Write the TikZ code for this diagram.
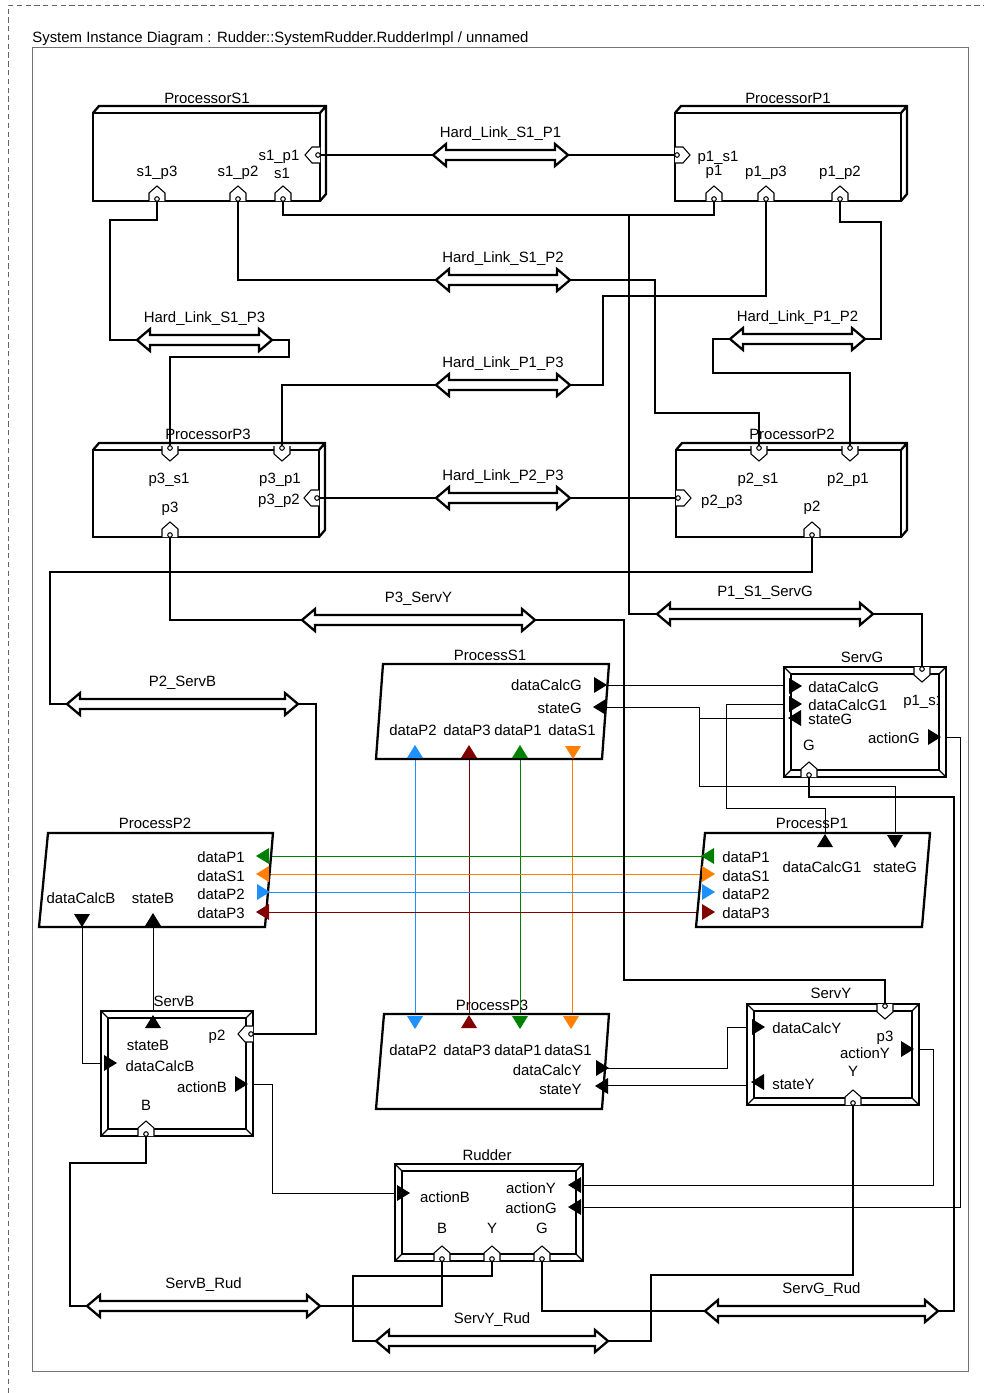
\documentclass[tikz,border=0pt]{standalone}
\usepackage{fontspec}
\setmainfont{Liberation Sans}

\definecolor{clrP2}{RGB}{30,144,255}
\definecolor{clrP3}{RGB}{128,0,0}
\definecolor{clrP1}{RGB}{0,128,0}
\definecolor{clrS1}{RGB}{255,128,0}

\tikzset{
  lbl/.style={font=\fontsize{8.5}{10}\selectfont, inner sep=0pt},
  wire/.style={line width=1.2pt},
  sig/.style={line width=0.5pt},
  boxline/.style={line width=1.3pt},
  busline/.style={line width=1.3pt, fill=white},
  busport/.pic={
    \draw[fill=white, line width=0.6pt] (-8,0) -- (-8,-8) -- (0,-15) -- (8,-8) -- (8,0);
    \draw[line width=0.6pt] (0,-2) circle[radius=1.3pt];
  },
  dport/.pic={\fill (-6,-8) -- (7,0) -- (-6,8) -- cycle;}
}

% double arrow of a bus: name, left x, right x, y, label
\newcommand{\busbar}[5]{%
  \coordinate (#1-w) at (#2,#4);
  \coordinate (#1-e) at (#3,#4);
  \draw[busline] (#1-w) -- (#2+13,#4-11) -- (#2+13,#4-5) -- (#3-13,#4-5) -- (#3-13,#4-11)
    -- (#1-e) -- (#3-13,#4+11) -- (#3-13,#4+5) -- (#2+13,#4+5) -- (#2+13,#4+11) -- cycle;
  \node[lbl] (#1-lbl) at ({(#2+#3)/2},#4-21) {#5};}
% processor box with 3D top: front face x1,y1,x2,y2
\newcommand{\procbox}[4]{%
  \draw[boxline, fill=white] (#1,#2) rectangle (#3,#4);
  \draw[boxline] (#1,#2) -- (#1+6,#2-7) -- (#3+6,#2-7) -- (#3+6,#4-7) -- (#3,#4) (#3,#2) -- (#3+6,#2-7);}
% device with double frame
\newcommand{\devbox}[4]{%
  \draw[line width=1.6pt, fill=white] (#1,#2) rectangle (#3,#4);
  \draw[line width=1pt] (#1+7,#2+7) rectangle (#3-7,#4-7);
  \draw[line width=0.7pt] (#1,#2) -- (#1+7,#2+7) (#3,#2) -- (#3-7,#2+7)
    (#1,#4) -- (#1+7,#4-7) (#3,#4) -- (#3-7,#4-7);}

\begin{document}
\begin{tikzpicture}[x=0.02cm, y=-0.02cm]
\useasboundingbox (0,0) rectangle (984,1393);
\draw[black!60, dash pattern=on 3pt off 2pt] (8,1393) -- (8,5) -- (984,5);
\draw[black!55, line width=0.5pt] (32,47) rectangle (968,1371);
\node[lbl, anchor=west] (title) at (32,39) {System Instance Diagram : Rudder::SystemRudder.RudderImpl / unnamed};

% ports of the processors
\coordinate (s1p3) at (157,201);
\coordinate (s1p2) at (238,201);
\coordinate (s1) at (283,201);
\coordinate (s1p1) at (320,155);
\coordinate (p1s1) at (675,155);
\coordinate (p1) at (714,201);
\coordinate (p1p3) at (766,201);
\coordinate (p1p2) at (840,201);
\coordinate (p3s1) at (170,446);
\coordinate (p3p1) at (282,446);
\coordinate (p3p2) at (319,498);
\coordinate (p3) at (170,537);
\coordinate (p2s1) at (759,446);
\coordinate (p2p1) at (850,446);
\coordinate (p2p3) at (676,498);
\coordinate (p2) at (812,537);
% ports of the devices
\coordinate (gP1s1) at (922,667);
\coordinate (gG) at (809,777);
\coordinate (bP2) at (253,1034);
\coordinate (bB) at (146,1136);
\coordinate (yP3) at (885,1004);
\coordinate (yY) at (853,1105);
\coordinate (rB) at (442,1261);
\coordinate (rY) at (492,1261);
\coordinate (rG) at (542,1261);
% data ports
\coordinate (s1CalcG) at (604,685);
\coordinate (s1StateG) at (604,707);
\coordinate (gCalcG) at (788,685);
\coordinate (gCalcG1) at (788,704);
\coordinate (gStateG) at (788,718);
\coordinate (gActionG) at (940,737);
\coordinate (p1CalcG1) at (825,833);
\coordinate (p1StateG) at (895,833);
\coordinate (p2CalcB) at (82,927);
\coordinate (p2StateB) at (153,927);
\coordinate (bCalcB) at (104,1063);
\coordinate (bStateB) at (153,1013);
\coordinate (bActionB) at (247,1084);
\coordinate (p3CalcY) at (604,1068);
\coordinate (p3StateY) at (604,1085);
\coordinate (yCalcY) at (752,1027);
\coordinate (yStateY) at (752,1085);
\coordinate (yActionY) at (913,1049);
\coordinate (rActionB) at (397,1193);
\coordinate (rActionY) at (578,1185);
\coordinate (rActionG) at (578,1207);
\coordinate (s1P2) at (415,759);
\coordinate (s1P3) at (469,759);
\coordinate (s1P1) at (520,759);
\coordinate (s1S1) at (572,759);
\coordinate (p3P2) at (415,1014);
\coordinate (p3P3) at (469,1014);
\coordinate (p3P1) at (520,1014);
\coordinate (p3S1) at (572,1014);
\coordinate (p2P1) at (268,856);
\coordinate (p2S1) at (267,874);
\coordinate (p2P2) at (267,892);
\coordinate (p2P3) at (266,912);
\coordinate (p1P1) at (703,856);
\coordinate (p1S1) at (702,874);
\coordinate (p1P2) at (700,892);
\coordinate (p1P3) at (699,912);

% thin connections
\draw[sig] (s1CalcG) -- (gCalcG);
\draw[sig] (s1StateG) -| (699,786) -| (p1StateG);
\coordinate (jS) at (699,718);
\draw[sig] (gStateG) -- (jS);
\draw[sig] (p1CalcG1) |- (726,808) |- (gCalcG1);
\draw[sig] (gActionG) -| (960,1207) -- (rActionG);
\draw[sig] (yActionY) -| (933,1185) -- (rActionY);
\draw[sig] (bActionB) -| (272,1193) -- (rActionB);
\draw[sig] (p2CalcB) |- (bCalcB);
\draw[sig] (bStateB) -- (p2StateB);
\draw[sig] (p3CalcY) -| (727,1027) -- (yCalcY);
\draw[sig] (yStateY) -- (p3StateY);
\draw[sig, clrP2] (s1P2) -- (p3P2);
\draw[sig, clrP3] (s1P3) -- (p3P3);
\draw[sig, clrP1] (s1P1) -- (p3P1);
\draw[sig, clrS1] (s1S1) -- (p3S1);
\draw[sig, clrP1] (p2P1) -- (p1P1);
\draw[sig, clrS1] (p2S1) -- (p1S1);
\draw[sig, clrP2] (p2P2) -- (p1P2);
\draw[sig, clrP3] (p2P3) -- (p1P3);

% buses
\busbar{hlS1P1}{433}{568}{155}{Hard\_Link\_S1\_P1}
\busbar{hlS1P2}{436}{570}{280}{Hard\_Link\_S1\_P2}
\busbar{hlS1P3}{137}{272}{340}{Hard\_Link\_S1\_P3}
\busbar{hlP1P2}{730}{865}{339}{Hard\_Link\_P1\_P2}
\busbar{hlP1P3}{436}{570}{385}{Hard\_Link\_P1\_P3}
\busbar{hlP2P3}{436}{570}{498}{Hard\_Link\_P2\_P3}
\busbar{busY3}{302}{535}{620}{P3\_ServY}
\busbar{busG}{657}{873}{614}{P1\_S1\_ServG}
\busbar{busB}{67}{298}{704}{P2\_ServB}
\busbar{busBR}{87}{320}{1306}{ServB\_Rud}
\busbar{busYR}{376}{608}{1341}{ServY\_Rud}
\busbar{busGR}{705}{938}{1311}{ServG\_Rud}

% bus connections
\draw[wire] (s1p1) -- (hlS1P1-w);
\draw[wire] (hlS1P1-e) -- (p1s1);
\draw[wire] (s1p3) |- (110,220) |- (hlS1P3-w);
\draw[wire] (hlS1P3-e) -| (289,357) -| (p3s1);
\draw[wire] (s1p2) |- (hlS1P2-w);
\draw[wire] (hlS1P2-e) -| (655,413) -| (p2s1);
\coordinate (jG) at (629,215);
\draw[wire] (s1) |- (jG) -| (p1);
\draw[wire] (jG) |- (busG-w);
\draw[wire] (busG-e) -| (gP1s1);
\draw[wire] (p1p3) |- (603,296) |- (hlP1P3-e);
\draw[wire] (hlP1P3-w) -| (p3p1);
\draw[wire] (p1p2) |- (881,222) |- (hlP1P2-e);
\draw[wire] (hlP1P2-w) -| (713,373) -| (p2p1);
\draw[wire] (p3p2) -- (hlP2P3-w);
\draw[wire] (hlP2P3-e) -- (p2p3);
\draw[wire] (p3) |- (busY3-w);
\draw[wire] (busY3-e) -| (624,980) -| (yP3);
\draw[wire] (p2) |- (50,572) |- (busB-w);
\draw[wire] (busB-e) -| (316,1034) -- (bP2);
\draw[wire] (bB) |- (70,1163) |- (busBR-w);
\draw[wire] (busBR-e) -| (rB);
\draw[wire] (rY) |- (353,1276) |- (busYR-w);
\draw[wire] (busYR-e) -| (651,1275) -| (yY);
\draw[wire] (rG) |- (busGR-w);
\draw[wire] (gG) |- (954,797) |- (busGR-e);

% processors
\procbox{93}{113}{320}{201}
\procbox{675}{113}{901}{201}
\procbox{93}{450}{319}{537}
\procbox{676}{450}{901}{537}
\node[lbl] (nS1) at (207,98) {ProcessorS1};
\node[lbl] (nP1) at (788,98) {ProcessorP1};
\node[lbl] (nP3) at (208,434) {ProcessorP3};
\node[lbl] (nP2) at (792,434) {ProcessorP2};
\foreach \p in {s1p3,s1p2,s1,p1,p1p3,p1p2,p3,p2}
  \pic at (\p) {busport};
\foreach \p in {p3s1,p3p1,p2s1,p2p1}
  \pic[rotate=180] at (\p) {busport};
\pic[rotate=90] at (s1p1) {busport};
\pic[rotate=90] at (p3p2) {busport};
\pic[rotate=-90] at (p1s1) {busport};
\pic[rotate=-90] at (p2p3) {busport};
\node[lbl] (t-s1p3) at (157,173) {s1\_p3};
\node[lbl] (t-s1p2) at (238,173) {s1\_p2};
\node[lbl] (t-s1) at (282,173) {s1};
\node[lbl] (t-s1p1) at (279,157) {s1\_p1};
\node[lbl] (t-p1s1) at (718,158) {p1\_s1};
\node[lbl] (t-p1) at (714,172) {p1};
\node[lbl] (t-p1p3) at (766,173) {p1\_p3};
\node[lbl] (t-p1p2) at (840,173) {p1\_p2};
\node[lbl] (t-p3s1) at (169,480) {p3\_s1};
\node[lbl] (t-p3p1) at (280,480) {p3\_p1};
\node[lbl] (t-p3p2) at (279,501) {p3\_p2};
\node[lbl] (t-p3) at (170,509) {p3};
\node[lbl] (t-p2s1) at (758,480) {p2\_s1};
\node[lbl] (t-p2p1) at (848,480) {p2\_p1};
\node[lbl] (t-p2p3) at (722,502) {p2\_p3};
\node[lbl] (t-p2) at (812,508) {p2};

% processes
\draw[boxline, fill=white] (383,664) -- (609,664) -- (602,759) -- (376,759) -- cycle;
\draw[boxline, fill=white] (48,833) -- (273,833) -- (265,927) -- (39,927) -- cycle;
\draw[boxline, fill=white] (705,833) -- (930,833) -- (922,927) -- (696,927) -- cycle;
\draw[boxline, fill=white] (384,1014) -- (609,1014) -- (602,1109) -- (376,1109) -- cycle;
\draw[sig] (p1CalcG1) -- ++(0,-10);
\draw[sig] (p1StateG) -- ++(0,-10);
\node[lbl] (nPS1) at (490,655) {ProcessS1};
\node[lbl] (nPP2) at (155,823) {ProcessP2};
\node[lbl] (nPP1) at (812,823) {ProcessP1};
\node[lbl] (nPP3) at (492,1005) {ProcessP3};
% ProcessS1
\pic at (600,685) {dport};
\pic[rotate=180] at (600,707) {dport};
\pic[rotate=90, color=clrP2] at (415,752) {dport};
\pic[rotate=90, color=clrP3] at (469,752) {dport};
\pic[rotate=90, color=clrP1] at (520,752) {dport};
\pic[rotate=-90, color=clrS1] at (573,752) {dport};
\node[lbl, anchor=east] (t-s1CalcG) at (582,685) {dataCalcG};
\node[lbl, anchor=east] (t-s1StateG) at (582,708) {stateG};
\node[lbl] (t-s1P2) at (413,730) {dataP2};
\node[lbl] (t-s1P3) at (467,730) {dataP3};
\node[lbl] (t-s1P1) at (518,730) {dataP1};
\node[lbl] (t-s1S1) at (572,730) {dataS1};
% ProcessP2
\pic[rotate=180, color=clrP1] at (263,856) {dport};
\pic[rotate=180, color=clrS1] at (263,874) {dport};
\pic[color=clrP2] at (263,892) {dport};
\pic[rotate=180, color=clrP3] at (263,912) {dport};
\pic[rotate=-90] at (82,920) {dport};
\pic[rotate=90] at (153,920) {dport};
\node[lbl, anchor=east] (t-p2P1) at (245,857) {dataP1};
\node[lbl, anchor=east] (t-p2S1) at (245,876) {dataS1};
\node[lbl, anchor=east] (t-p2P2) at (245,894) {dataP2};
\node[lbl, anchor=east] (t-p2P3) at (245,913) {dataP3};
\node[lbl] (t-p2CalcB) at (81,898) {dataCalcB};
\node[lbl] (t-p2StateB) at (153,898) {stateB};
% ProcessP1
\pic[rotate=180, color=clrP1] at (708,856) {dport};
\pic[color=clrS1] at (708,874) {dport};
\pic[color=clrP2] at (708,892) {dport};
\pic[color=clrP3] at (708,912) {dport};
\pic[rotate=90] at (825,841) {dport};
\pic[rotate=-90] at (895,841) {dport};
\node[lbl, anchor=west] (t-p1P1) at (722,857) {dataP1};
\node[lbl, anchor=west] (t-p1S1) at (722,876) {dataS1};
\node[lbl, anchor=west] (t-p1P2) at (722,894) {dataP2};
\node[lbl, anchor=west] (t-p1P3) at (722,913) {dataP3};
\node[lbl] (t-p1CalcG1) at (822,867) {dataCalcG1};
\node[lbl] (t-p1StateG) at (895,867) {stateG};
% ProcessP3
\pic[rotate=-90, color=clrP2] at (415,1022) {dport};
\pic[rotate=90, color=clrP3] at (469,1022) {dport};
\pic[rotate=-90, color=clrP1] at (520,1022) {dport};
\pic[rotate=-90, color=clrS1] at (571,1022) {dport};
\pic at (602,1068) {dport};
\pic[rotate=180] at (602,1086) {dport};
\node[lbl] (t-p3P2) at (413,1050) {dataP2};
\node[lbl] (t-p3P3) at (467,1050) {dataP3};
\node[lbl] (t-p3P1) at (518,1050) {dataP1};
\node[lbl] (t-p3S1) at (568,1050) {dataS1};
\node[lbl, anchor=east] (t-p3CalcY) at (582,1070) {dataCalcY};
\node[lbl, anchor=east] (t-p3StateY) at (582,1089) {stateY};

% devices
\devbox{784}{667}{946}{777}
\devbox{101}{1011}{253}{1136}
\devbox{747}{1004}{919}{1105}
\devbox{395}{1164}{583}{1261}
\node[lbl] (nG) at (862,657) {ServG};
\node[lbl] (nB) at (174,1001) {ServB};
\node[lbl] (nY) at (831,993) {ServY};
\node[lbl] (nR) at (487,1155) {Rudder};
\foreach \p in {gG,bB,yY,rB,rY,rG}
  \pic at (\p) {busport};
\pic[rotate=180] at (gP1s1) {busport};
\pic[rotate=180] at (yP3) {busport};
\pic[rotate=90] at (bP2) {busport};
% ServG
\pic at (795,686) {dport};
\pic at (795,704) {dport};
\pic[rotate=180] at (795,718) {dport};
\pic at (934,737) {dport};
\node[lbl, anchor=west] (t-gCalcG) at (808,687) {dataCalcG};
\node[lbl, anchor=west] (t-gCalcG1) at (808,705) {dataCalcG1};
\node[lbl, anchor=west] (t-gStateG) at (808,719) {stateG};
\begin{scope}
  \clip (791,674) rectangle (939,770);
  \node[lbl, anchor=west] (t-gP1s1) at (903,702) {p1\_s1};
\end{scope}
\node[lbl] (t-gG) at (809,745) {G};
\node[lbl, anchor=east] (t-gActionG) at (920,738) {actionG};
% ServB
\pic[rotate=90] at (153,1022) {dport};
\pic at (110,1063) {dport};
\pic at (241,1084) {dport};
\node[lbl] (t-bP2) at (217,1037) {p2};
\node[lbl] (t-bStateB) at (148,1045) {stateB};
\node[lbl] (t-bCalcB) at (160,1066) {dataCalcB};
\node[lbl] (t-bActionB) at (202,1087) {actionB};
\node[lbl] (t-bB) at (146,1105) {B};
% ServY
\pic at (758,1027) {dport};
\pic[rotate=180] at (758,1082) {dport};
\pic at (907,1049) {dport};
\node[lbl, anchor=west] (t-yCalcY) at (772,1028) {dataCalcY};
\node[lbl] (t-yP3) at (885,1038) {p3};
\node[lbl] (t-yActionY) at (865,1053) {actionY};
\node[lbl] (t-yY) at (853,1071) {Y};
\node[lbl, anchor=west] (t-yStateY) at (772,1084) {stateY};
% Rudder
\pic at (403,1193) {dport};
\pic[rotate=180] at (575,1185) {dport};
\pic[rotate=180] at (575,1207) {dport};
\node[lbl] (t-rActionB) at (445,1197) {actionB};
\node[lbl] (t-rActionY) at (531,1188) {actionY};
\node[lbl] (t-rActionG) at (531,1208) {actionG};
\node[lbl] (t-rB) at (442,1228) {B};
\node[lbl] (t-rY) at (492,1228) {Y};
\node[lbl] (t-rG) at (542,1228) {G};
\end{tikzpicture}
\end{document}
